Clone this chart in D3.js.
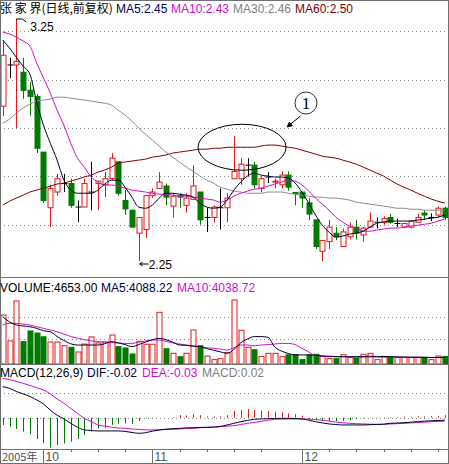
<!DOCTYPE html>
<html><head><meta charset="utf-8">
<script src="https://cdn.jsdelivr.net/npm/d3@7"></script>
<style>body{margin:0;background:#fff}svg{display:block}text{font-family:"Liberation Sans",Arial,sans-serif;font-size:12px}</style>
</head><body>
<script>
const opens=[2.89,3.06,3.06,3.03,2.956,2.93,2.70,2.47,2.535,2.57,2.57,2.473,2.473,2.535,2.57,2.565,2.59,2.66,2.50,2.46,2.365,2.38,2.52,2.55,2.56,2.477,2.52,2.48,2.505,2.535,2.43,2.43,2.47,2.47,2.59,2.59,2.646,2.646,2.55,2.597,2.577,2.565,2.605,2.533,2.535,2.49,2.42,2.29,2.33,2.365,2.31,2.35,2.39,2.358,2.39,2.41,2.41,2.43,2.405,2.39,2.39,2.41,2.448,2.43,2.44,2.468];
const highs=[3.16,3.09,3.25,3.09,2.99,2.94,2.70,2.564,2.61,2.61,2.59,2.50,2.59,2.66,2.58,2.617,2.696,2.66,2.543,2.46,2.43,2.52,2.55,2.617,2.57,2.53,2.53,2.53,2.646,2.535,2.47,2.48,2.55,2.53,2.766,2.675,2.675,2.66,2.60,2.617,2.59,2.62,2.62,2.533,2.535,2.51,2.42,2.335,2.42,2.39,2.385,2.41,2.42,2.39,2.45,2.43,2.435,2.445,2.425,2.405,2.42,2.445,2.46,2.447,2.475,2.475];
const lows=[2.85,3.006,2.80,2.92,2.85,2.696,2.49,2.39,2.52,2.535,2.47,2.41,2.473,2.46,2.46,2.514,2.585,2.52,2.44,2.39,2.25,2.345,2.51,2.55,2.48,2.43,2.47,2.45,2.505,2.40,2.37,2.41,2.38,2.41,2.59,2.565,2.60,2.55,2.535,2.572,2.55,2.55,2.54,2.48,2.47,2.42,2.30,2.25,2.30,2.336,2.31,2.34,2.34,2.33,2.39,2.385,2.40,2.405,2.39,2.385,2.385,2.41,2.42,2.415,2.43,2.42];
const closes=[3.10,3.06,3.075,2.955,2.93,2.716,2.50,2.55,2.59,2.57,2.48,2.473,2.57,2.535,2.58,2.59,2.675,2.53,2.465,2.39,2.43,2.52,2.535,2.576,2.514,2.518,2.514,2.51,2.56,2.42,2.43,2.473,2.47,2.51,2.62,2.65,2.646,2.565,2.59,2.597,2.58,2.605,2.555,2.53,2.51,2.444,2.31,2.335,2.39,2.35,2.37,2.39,2.365,2.386,2.415,2.41,2.425,2.41,2.405,2.405,2.415,2.43,2.44,2.43,2.468,2.43];
const ma5=[3.163,3.13,3.092,3.055,3.022,2.906,2.811,2.737,2.667,2.584,2.543,2.53,2.53,2.53,2.543,2.568,2.584,2.584,2.555,2.514,2.473,2.468,2.481,2.51,2.53,2.53,2.526,2.522,2.514,2.489,2.473,2.468,2.473,2.502,2.543,2.576,2.601,2.613,2.605,2.601,2.597,2.597,2.592,2.572,2.535,2.489,2.44,2.398,2.369,2.349,2.353,2.361,2.365,2.373,2.39,2.406,2.411,2.415,2.415,2.415,2.415,2.419,2.423,2.427,2.431,2.44];
const ma10=[3.196,3.188,3.175,3.159,3.138,3.068,3.006,2.944,2.873,2.811,2.737,2.675,2.638,2.597,2.576,2.564,2.564,2.559,2.551,2.543,2.539,2.535,2.53,2.526,2.526,2.522,2.518,2.518,2.514,2.51,2.506,2.502,2.493,2.502,2.518,2.53,2.539,2.547,2.551,2.559,2.568,2.576,2.584,2.58,2.564,2.539,2.51,2.485,2.46,2.431,2.411,2.394,2.386,2.373,2.373,2.378,2.382,2.386,2.386,2.39,2.394,2.398,2.402,2.406,2.415,2.423];
const ma30=[2.82,2.836,2.861,2.882,2.898,2.911,2.915,2.919,2.927,2.927,2.923,2.919,2.915,2.911,2.906,2.902,2.894,2.873,2.853,2.828,2.799,2.774,2.75,2.725,2.70,2.679,2.659,2.638,2.621,2.601,2.584,2.572,2.555,2.547,2.539,2.535,2.53,2.53,2.53,2.535,2.535,2.535,2.53,2.526,2.522,2.518,2.514,2.514,2.51,2.51,2.506,2.502,2.493,2.489,2.485,2.481,2.477,2.473,2.468,2.468,2.464,2.464,2.46,2.46,2.46,2.46];
const ma60=[2.481,2.497,2.51,2.522,2.535,2.543,2.551,2.559,2.568,2.572,2.58,2.588,2.597,2.605,2.617,2.626,2.638,2.654,2.659,2.663,2.667,2.671,2.679,2.683,2.688,2.696,2.70,2.704,2.708,2.712,2.712,2.716,2.716,2.72,2.72,2.72,2.72,2.72,2.725,2.729,2.729,2.725,2.72,2.716,2.708,2.70,2.692,2.683,2.679,2.675,2.667,2.659,2.65,2.638,2.626,2.613,2.601,2.584,2.568,2.555,2.543,2.53,2.518,2.506,2.497,2.489];
const volumes=[30200,14200,38900,13800,20400,19100,16800,13600,13600,11300,10300,7400,12300,16700,13000,13600,17900,10700,9900,6200,14000,12200,12200,31900,9400,6600,4500,6600,21000,11300,4900,2700,3300,7000,39500,20800,10300,8800,4700,6600,6600,4500,5700,5700,2700,5700,6000,4700,3300,3300,5700,4100,3700,6000,6600,2700,4700,4500,4100,4100,4100,4100,4100,2700,4900,4653];
const volMa5=[29200,26000,24100,23500,23000,22000,20500,19900,17000,14500,12500,11700,11700,11700,11700,12500,13800,13000,12000,10700,12000,13500,15000,15800,15000,13500,11700,11500,11000,10700,9500,8500,7500,6600,9000,13000,15500,16900,16900,16500,10500,8000,6500,5600,5600,5600,5400,5000,4800,4600,4500,4500,4500,4600,4800,4700,4600,4500,4400,4300,4200,4200,4100,4000,4000,4088];
const volMa10=[24100,25100,25100,24600,24100,23000,22000,21000,19900,18500,17000,16000,15000,14300,13800,13500,13200,13000,12700,12700,13500,14200,14800,14800,14000,13000,12300,11700,11200,10500,10000,9700,9200,8600,10000,11700,11700,11200,11700,12000,12300,12700,12700,12000,9700,7500,5100,4700,4500,4500,4400,4400,4300,4300,4300,4300,4200,4200,4200,4100,4100,4100,4100,4050,4040,4039];
const dif=[0.248,0.235,0.21,0.19,0.17,0.142,0.11,0.06,0.02,-0.01,-0.045,-0.075,-0.098,-0.102,-0.106,-0.106,-0.106,-0.106,-0.11,-0.118,-0.125,-0.12,-0.108,-0.098,-0.092,-0.088,-0.085,-0.082,-0.08,-0.078,-0.077,-0.075,-0.07,-0.058,-0.045,-0.032,-0.022,-0.013,-0.01,-0.008,-0.006,-0.005,-0.005,-0.007,-0.01,-0.02,-0.032,-0.042,-0.05,-0.055,-0.058,-0.058,-0.058,-0.058,-0.056,-0.054,-0.052,-0.045,-0.043,-0.04,-0.036,-0.032,-0.028,-0.025,-0.022,-0.02];
const dea=[0.315,0.305,0.29,0.275,0.258,0.24,0.222,0.19,0.15,0.115,0.075,0.035,-0.005,-0.03,-0.058,-0.068,-0.076,-0.082,-0.085,-0.09,-0.094,-0.097,-0.098,-0.097,-0.095,-0.093,-0.09,-0.087,-0.085,-0.08,-0.078,-0.075,-0.072,-0.068,-0.064,-0.055,-0.045,-0.037,-0.03,-0.02,-0.013,-0.011,-0.01,-0.01,-0.01,-0.011,-0.015,-0.02,-0.027,-0.035,-0.04,-0.045,-0.048,-0.05,-0.052,-0.053,-0.053,-0.05,-0.048,-0.045,-0.042,-0.038,-0.035,-0.032,-0.03,-0.028];
const macd=[-0.058,-0.072,-0.09,-0.112,-0.133,-0.17,-0.205,-0.24,-0.218,-0.205,-0.192,-0.17,-0.138,-0.112,-0.085,-0.08,-0.058,-0.05,-0.045,-0.05,-0.026,-0.005,-0.003,0,0,0.005,0.02,0.018,0.027,0.02,0.01,0.008,0.01,0.02,0.053,0.062,0.07,0.062,0.056,0.053,0.048,0.043,0.035,0.027,0.016,-0.01,-0.02,-0.027,-0.03,-0.03,-0.025,-0.02,-0.01,-0.005,-0.003,0.003,0.003,0.005,0.005,0.008,0.008,0.01,0.01,0.012,0.015,0.02];
const monthTicks=[{i:6,label:"10"},{i:22,label:"11"},{i:44,label:"12"}];
const minorTicks=[10,14,18,26,30,34,38,48,52,56,60,64];
const priceGrid=[2.4,2.6,2.8,3.0,3.2];
const volGrid=[15400,29000];
const macdGrid=[0.2];

const W=449,H=464,n=closes.length;
const RED="#e01818",GREEN="#007a00";
const svg=d3.select("body").append("svg").attr("width",W).attr("height",H);
const x=d3.scaleBand().domain(d3.range(n)).range([-0.7,448.1]);
const cx=i=>x(i)+x.bandwidth()/2;
const xl=d3.scaleLinear().domain([0,n-1]).range([cx(0),cx(n-1)]);
const yP=d3.scaleLinear().domain([2.25,3.25]).range([261,19]);
const yV=d3.scaleLinear().domain([0,50000]).range([364,283]);
const yM=d3.scaleLinear().domain([-0.25,0.3]).range([448.95,380.2]);

function grid(vals,y){svg.append("g").selectAll("line").data(vals).join("line")
 .attr("x1",0).attr("x2",W).attr("y1",d=>Math.round(y(d))+0.5).attr("y2",d=>Math.round(y(d))+0.5)
 .attr("stroke","#8a8a8a").attr("stroke-dasharray","1,3");}
grid(priceGrid,yP);grid(volGrid,yV);grid(macdGrid,yM);grid([0],yM);

const up=i=>closes[i]>opens[i], doji=i=>Math.abs(closes[i]-opens[i])<1e-9;
const col=i=>doji(i)?"#000":(up(i)?RED:GREEN);
// candles
const cg=svg.append("g");
d3.range(n).forEach(i=>{
 const X=Math.round(cx(i))+0.5;
 cg.append("line").attr("x1",X).attr("x2",X).attr("y1",yP(highs[i])).attr("y2",yP(lows[i])).attr("stroke",col(i));
 const t=yP(Math.max(opens[i],closes[i])),b=yP(Math.min(opens[i],closes[i]));
 if(doji(i)) cg.append("line").attr("x1",X-3).attr("x2",X+3).attr("y1",t).attr("y2",t).attr("stroke","#000");
 else cg.append("rect").attr("x",X-2.5).attr("y",t).attr("width",5).attr("height",Math.max(1,b-t))
   .attr("fill",up(i)?"#fff":GREEN).attr("stroke",col(i));
});
function line(arr,y,c,w){svg.append("path").datum(arr).attr("fill","none").attr("stroke",c).attr("stroke-width",w||1)
 .attr("d",d3.line().x((d,i)=>cx(i)).y(d=>y(d)).curve(d3.curveMonotoneX));}
line(ma60,yP,"#800000");line(ma30,yP,"#8c8c8c");line(ma10,yP,"#cc10cc");line(ma5,yP,"#000030");

// volume
const vg=svg.append("g");
d3.range(n).forEach(i=>{
 const X=Math.round(cx(i))+0.5,r=doji(i)||up(i);
 vg.append("rect").attr("x",X-2.5).attr("y",yV(volumes[i])).attr("width",r?5:5).attr("height",yV(0)-yV(volumes[i]))
  .attr("fill",r?"#fff":GREEN).attr("stroke",r?RED:GREEN);
});
line(volMa10,yV,"#cc10cc");line(volMa5,yV,"#000030");

// macd
svg.append("g").selectAll("line").data(macd).join("line")
 .attr("x1",(d,i)=>Math.round(cx(i))+0.5).attr("x2",(d,i)=>Math.round(cx(i))+0.5)
 .attr("y1",yM(0)).attr("y2",d=>yM(d)).attr("stroke",d=>d>=0?RED:GREEN);
line(dea,yM,"#cc10cc");line(dif,yM,"#000030");

// frames
const fr=svg.append("g").attr("stroke","#707070").attr("fill","none");
fr.append("rect").attr("x",0.5).attr("y",0.5).attr("width",W-1).attr("height",H-1);
[277.5,364.5,449.5].forEach(y=>fr.append("line").attr("x1",0).attr("x2",W).attr("y1",y).attr("y2",y));
// axis
const ag=svg.append("g");
monthTicks.forEach(t=>{const X=Math.round(cx(t.i))+0.5;
 ag.append("line").attr("x1",X).attr("x2",X).attr("y1",449).attr("y2",463).attr("stroke","#707070");
 ag.append("text").attr("x",X+2).attr("y",461).attr("fill","#505050").text(t.label);});
ag.append("text").attr("x",2).attr("y",461).attr("fill","#505050").style("font-family","Noto Sans CJK SC").style("font-size","11px").text("2005年");
minorTicks.forEach(i=>{const X=Math.round(cx(i))+0.5;ag.append("line").attr("x1",X).attr("x2",X).attr("y1",449).attr("y2",452).attr("stroke","#707070");});

// legends
function legend(y,items){const t=svg.append("text").attr("y",y);
 items.forEach(([s,c,dx,f])=>t.append("tspan").attr("x",dx).attr("fill",c).style("font-family",f||null).text(s));}
legend(13,[["张 家 界(日线,前复权)","#000",0,"Noto Sans CJK SC"],["MA5:2.45","#000050",116],["MA10:2.43","#cc10cc",171],["MA30:2.46","#808080",233],["MA60:2.50","#800000",295]]);
legend(292,[["VOLUME:4653.00","#000",0],["MA5:4088.22","#000050",101],["MA10:4038.72","#cc10cc",177]]);
legend(377,[["MACD(12,26,9)","#000",0],["DIF:-0.02","#000050",87],["DEA:-0.03","#cc10cc",142],["MACD:0.02","#808080",202]]);

// annotations
const hx=cx(2),hy=yP(highs[2]);
svg.append("path").attr("d",`M${hx},${hy}h6l4,3`).attr("fill","none").attr("stroke","#000");
svg.append("text").attr("x",hx+14).attr("y",hy+12).text("3.25");
const lx=cx(20),ly=yP(lows[20]);
svg.append("path").attr("d",`M${lx+1},${ly+3}h9M${lx+1},${ly+3}l3,-2M${lx+1},${ly+3}l3,2`).attr("fill","none").attr("stroke","#000");
svg.append("text").attr("x",lx+10).attr("y",ly+8).text("2.25");
svg.append("ellipse").attr("cx",xl(35.2)).attr("cy",yP(2.72)).attr("rx",44).attr("ry",23).attr("fill","none").attr("stroke","#000");
svg.append("circle").attr("cx",xl(44.6)).attr("cy",103).attr("r",11).attr("fill","none").attr("stroke","#333");
svg.append("text").attr("x",xl(44.6)).attr("y",109).attr("text-anchor","middle").style("font-family","Liberation Serif").style("font-size","17px").text("1");
svg.append("defs").append("marker").attr("id","ah").attr("viewBox","0 0 10 10").attr("refX",9).attr("refY",5)
 .attr("markerWidth",6).attr("markerHeight",6).attr("orient","auto").append("path").attr("d","M0,0L10,5L0,10z");
svg.append("line").attr("x1",xl(43.8)).attr("y1",116).attr("x2",xl(41.8)).attr("y2",127).attr("stroke","#000").attr("marker-end","url(#ah)");
</script>
</body></html>
